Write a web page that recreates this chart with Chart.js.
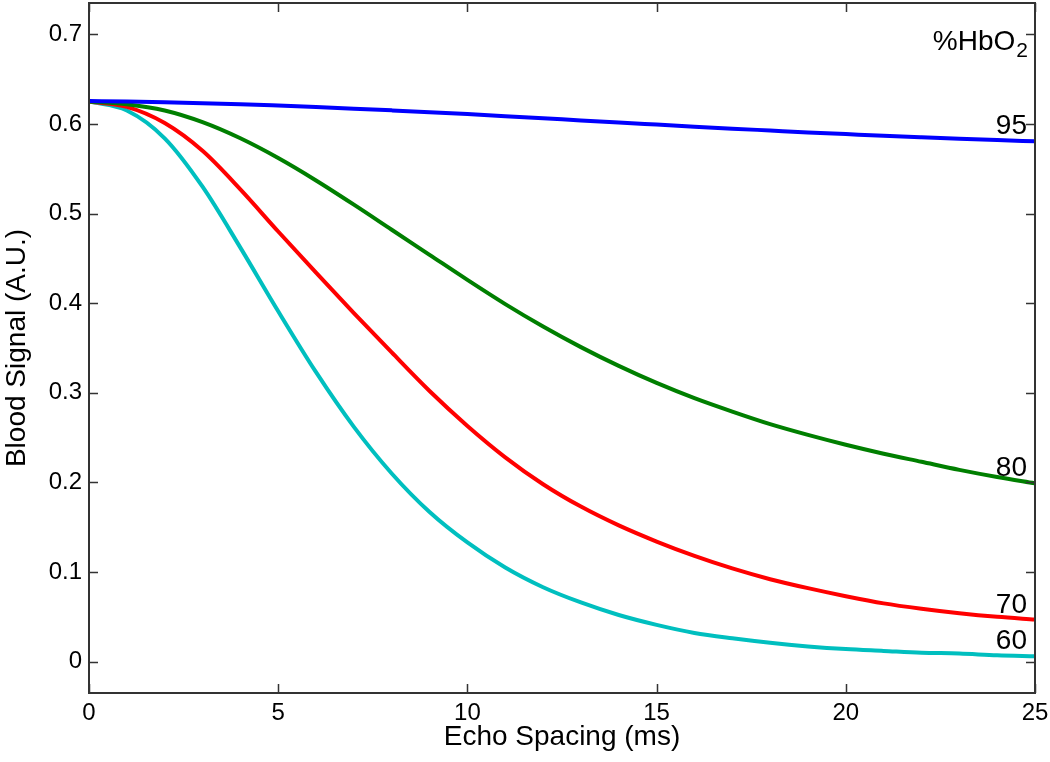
<!DOCTYPE html>
<html>
<head>
<meta charset="utf-8">
<script src="https://cdn.jsdelivr.net/npm/chart.js@4.4.1/dist/chart.umd.min.js"></script>
<style>
  html, body { margin: 0; padding: 0; background: #fff; }
  #wrap { width: 1050px; height: 762px; }
</style>
</head>
<body>
<div id="wrap"><canvas id="signalChart"></canvas></div>
<script>
// echo spacing (ms)
const echoSpacing = [0, 1, 2, 3, 4, 5, 6, 7, 8, 9, 10, 11, 12, 13, 14, 15, 16, 17, 18, 19, 20, 21, 22, 23, 24, 25];

// blood signal (A.U.) per %HbO2
const hbo95 = [0.6255, 0.6250, 0.6242, 0.6232, 0.6220, 0.6205, 0.6189, 0.6171, 0.6152, 0.6132, 0.6110, 0.6087, 0.6063,
               0.6040, 0.6016, 0.5993, 0.5970, 0.5948, 0.5927, 0.5906, 0.5887, 0.5868, 0.5851, 0.5835, 0.5820, 0.5806];
const hbo80 = [0.625, 0.622, 0.615, 0.602, 0.584, 0.562, 0.537, 0.510, 0.482, 0.454, 0.426, 0.399, 0.374,
               0.351, 0.330, 0.311, 0.294, 0.279, 0.265, 0.253, 0.242, 0.232, 0.223, 0.214, 0.206, 0.199];
const hbo70 = [0.625, 0.619, 0.601, 0.570, 0.527, 0.480, 0.434, 0.389, 0.345, 0.302, 0.263, 0.228, 0.198,
               0.173, 0.152, 0.134, 0.118, 0.104, 0.092, 0.082, 0.073, 0.065, 0.059, 0.054, 0.050, 0.047];
const hbo60 = [0.625, 0.615, 0.584, 0.530, 0.462, 0.391, 0.323, 0.262, 0.210, 0.167, 0.133, 0.105, 0.083,
               0.066, 0.052, 0.041, 0.032, 0.026, 0.021, 0.017, 0.014, 0.012, 0.010, 0.009, 0.007, 0.006];

const seriesLabels = ['95', '80', '70', '60'];
const xTicks = [0, 5, 10, 15, 20, 25];
const yTicks = [0, 0.1, 0.2, 0.3, 0.4, 0.5, 0.6, 0.7];

const FONT = '"Liberation Sans", Arial, sans-serif';
const toPoints = arr => arr.map((v, i) => ({ x: echoSpacing[i], y: v }));

// matlab-style box with inward ticks
const boxPlugin = {
  id: 'box',
  afterDatasetsDraw(chart) {
    const { ctx, chartArea: a, scales } = chart;
    const tl = 9;
    ctx.save();
    ctx.strokeStyle = '#333';
    ctx.lineWidth = 1.5;
    ctx.beginPath();
    xTicks.forEach(v => {
      const px = Math.round(scales.x.getPixelForValue(v)) + 0.5;
      ctx.moveTo(px, a.bottom); ctx.lineTo(px, a.bottom - tl);
      ctx.moveTo(px, a.top); ctx.lineTo(px, a.top + tl);
    });
    yTicks.forEach(v => {
      const py = Math.round(scales.y.getPixelForValue(v)) + 0.5;
      ctx.moveTo(a.left, py); ctx.lineTo(a.left + tl, py);
      ctx.moveTo(a.right, py); ctx.lineTo(a.right - tl, py);
    });
    ctx.stroke();
    ctx.lineWidth = 2;
    ctx.strokeRect(a.left, a.top, a.right - a.left, a.bottom - a.top);
    ctx.restore();
  }
};

// curve labels at the right end + header
const labelPlugin = {
  id: 'curveLabels',
  afterDraw(chart) {
    const { ctx, chartArea: a } = chart;
    ctx.save();
    ctx.fillStyle = '#000';
    ctx.textAlign = 'right';
    ctx.textBaseline = 'alphabetic';
    ctx.font = '28px ' + FONT;
    chart.data.datasets.forEach((ds, i) => {
      const pts = chart.getDatasetMeta(i).data;
      const last = pts[pts.length - 1];
      ctx.fillText(seriesLabels[i], last.x - 8, last.y - 7);
    });
    // %HbO2 with subscript
    const subRight = a.right - 7;
    ctx.font = '21px ' + FONT;
    const subW = ctx.measureText('2').width;
    ctx.fillText('2', subRight, a.top + 54);
    ctx.font = '28px ' + FONT;
    ctx.fillText('%HbO', subRight - subW - 1, a.top + 47);
    ctx.restore();
  }
};

const ctx = document.getElementById('signalChart').getContext('2d');
new Chart(ctx, {
  type: 'line',
  data: {
    datasets: [
      { label: '95', data: toPoints(hbo95), borderColor: '#0000ff' },
      { label: '80', data: toPoints(hbo80), borderColor: '#007f00' },
      { label: '70', data: toPoints(hbo70), borderColor: '#ff0000' },
      { label: '60', data: toPoints(hbo60), borderColor: '#00bfbf' }
    ].map(d => Object.assign(d, {
      borderWidth: 4,
      pointRadius: 0,
      fill: false,
      cubicInterpolationMode: 'monotone'
    }))
  },
  options: {
    responsive: true,
    maintainAspectRatio: false,
    animation: false,
    layout: { padding: { top: 3, right: 15, left: 0, bottom: 0 } },
    plugins: {
      legend: { display: false },
      tooltip: { enabled: false }
    },
    scales: {
      x: {
        type: 'linear',
        min: 0,
        max: 25,
        afterBuildTicks: s => { s.ticks = xTicks.map(v => ({ value: v })); },
        afterFit: s => { s.height = 69; s.paddingLeft = 0; s.paddingRight = 0; },
        grid: { display: false, drawTicks: false },
        border: { display: false },
        ticks: { color: '#000', font: { family: FONT, size: 24 }, padding: 6, maxRotation: 0 },
        title: {
          display: true,
          text: 'Echo Spacing (ms)',
          color: '#000',
          font: { family: FONT, size: 28 },
          padding: { top: 0, bottom: 8 }
        }
      },
      y: {
        min: -0.035,
        max: 0.735,
        afterBuildTicks: s => { s.ticks = yTicks.map(v => ({ value: v })); },
        afterFit: s => { s.width = 89; s.paddingTop = 0; s.paddingBottom = 0; },
        grid: { display: false, drawTicks: false },
        border: { display: false },
        ticks: {
          color: '#000',
          font: { family: FONT, size: 24 },
          padding: 7,
          callback: v => (v === 0 ? '0' : v.toFixed(1))
        },
        title: {
          display: true,
          text: 'Blood Signal (A.U.)',
          color: '#000',
          font: { family: FONT, size: 28 },
          padding: 0
        }
      }
    }
  },
  plugins: [boxPlugin, labelPlugin]
});
</script>
</body>
</html>
